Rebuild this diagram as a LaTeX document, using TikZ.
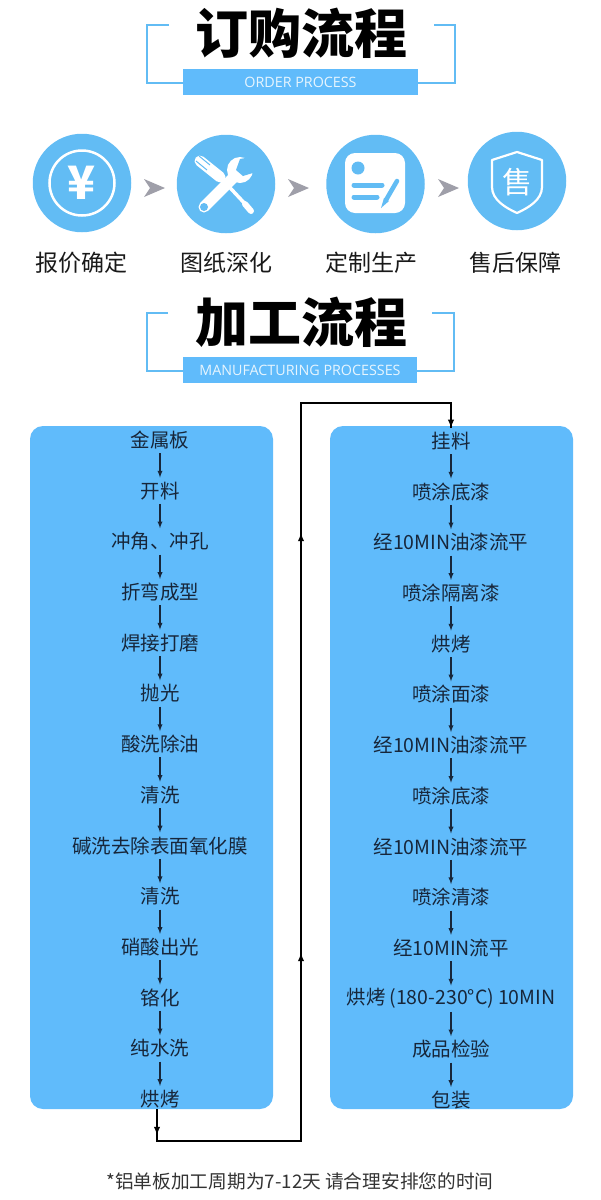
\documentclass[tikz,border=0pt]{standalone}
\usepackage{fontspec}
\setmainfont{Noto Sans CJK SC}
\newfontfamily\latinfont{Open Sans}
\usetikzlibrary{positioning}
\tikzset{>=latex}
\definecolor{skyblue}{HTML}{60BBFB}
\definecolor{circblue}{HTML}{62BCF4}
\definecolor{inkdark}{HTML}{17263A}
\tikzset{
  proc/.style={inner sep=0pt, minimum height=26pt, text=inkdark, font=\fontsize{19.5pt}{20pt}\selectfont},
  flow/.style={->, line width=1.3pt, inkdark},
  loopline/.style={line width=1.8pt, black},
  panel/.style={fill=skyblue, rounded corners=13pt, minimum width=243pt, minimum height=683pt, inner sep=0pt},
  band/.style={fill=skyblue, inner sep=0pt, minimum height=26pt, text=white!85!skyblue},
  bracket/.style={line width=1.2pt, circblue},
  headline/.style={inner sep=0pt, font=\fontsize{53pt}{54pt}\selectfont\bfseries},
  caption/.style={inner sep=0pt, text=black!90, font=\fontsize{23pt}{24pt}\selectfont},
  disc/.style={circle, fill=circblue, inner sep=0pt, minimum size=98.5pt},
  chev/.style={fill=black!25!blue!8!gray!70},
}
\begin{document}
\begin{tikzpicture}[x=1pt, y=-1pt, node distance=50.7pt]
  \useasboundingbox (0,0) rectangle (601,1200);
  % titles
  \node[headline] (t1) at (301,33) {订购流程};
  \node[band, minimum width=235pt] (s1) at (300.5,82) {\latinfont\fontsize{14.3pt}{16pt}\selectfont ORDER PROCESS};
  \draw[bracket] (169,25) -| (147,83) -- (s1.west |- 0,83);
  \draw[bracket] (434,25) -| (455,83) -- (s1.east |- 0,83);
  \node[headline] (t2) at (301,322) {加工流程};
  \node[band, minimum width=234pt] (s2) at (300,370) {\latinfont\fontsize{14.3pt}{16pt}\selectfont MANUFACTURING PROCESSES};
  \draw[bracket] (168,313) -| (147,371) -- (s2.west |- 0,371);
  \draw[bracket] (432,313) -| (454,371) -- (s2.east |- 0,371);
  % order steps
  \node[disc] (c1) at (82,183) {};
  \node[disc] (c2) at (226,184) {};
  \node[disc] (c3) at (375.5,184) {};
  \node[disc] (c4) at (517,181) {};
  \node[caption] (l1) at (81.5,263) {报价确定};
  \node[caption] (l2) at (226,263) {图纸深化};
  \node[caption] (l3) at (371,263) {定制生产};
  \node[caption] (l4) at (515,263) {售后保障};
  \fill[chev, shift={(144,188)}] (0,-9) -- (21,0) -- (0,9) -- (6,0) -- cycle;
  \fill[chev, shift={(288,188)}] (0,-9) -- (21,0) -- (0,9) -- (6,0) -- cycle;
  \fill[chev, shift={(438,188)}] (0,-9) -- (21,0) -- (0,9) -- (6,0) -- cycle;
  % yen
  \draw[white, line width=2.5pt] (c1) circle (32.5);
  \node[inner sep=0pt, text=white, font=\fontsize{46pt}{48pt}\selectfont\bfseries] (yen) at (82,183) {¥};
  % wrench and screwdriver
  \draw[white, line width=11pt, line cap=round] (200,161) -- (220,177);
  \draw[circblue, line width=1pt] (199,156) -- (210,165);
  \draw[circblue, line width=1pt] (196,161) -- (207,170);
  \draw[white, line width=3.5pt] (220,177) -- (248,207);
  \draw[white, line width=6pt, line cap=round] (245,204) -- (251,211);
  \draw[circblue, line width=5pt] (221,191) -- (232,180);
  \draw[white, line width=11pt, line cap=round] (204,207) -- (236,175);
  \fill[white] (240,170) circle (13);
  \fill[circblue] (240,159) -- (236,170) -- (243,176) -- (256,172) -- (256,156) -- cycle;
  \fill[circblue] (204,207) circle (4);
  % form with pen
  \fill[white, rounded corners=10pt] (345,153) rectangle (405,213);
  \fill[circblue] (358,168) circle (6.5);
  \draw[circblue, line width=5pt, line cap=round] (354,185) -- (382,185);
  \draw[circblue, line width=5pt, line cap=round] (354,197) -- (377,197);
  \draw[circblue, line width=4.5pt, line cap=round] (397,181) -- (386,200);
  \fill[circblue] (384,198) -- (389,201) -- (381,208) -- cycle;
  % shield
  \draw[white, line width=2.2pt, line join=round] (517,152) -- (542,160) -- (542,187)
    .. controls (542,200) and (528,208) .. (517,213)
    .. controls (506,208) and (492,200) .. (492,187) -- (492,160) -- cycle;
  \node[inner sep=0pt, text=white, font=\fontsize{30pt}{32pt}\selectfont] (sv) at (517,182) {售};
  % panels
  \node[panel] (pl) at (151.5,767.5) {};
  \node[panel] (pr) at (451.5,767.5) {};
  % left column
  \node[proc] (a0) at (160,440) {金属板};
  \node[proc, below of=a0] (a1) {开料};
  \node[proc, below of=a1] (a2) {冲角、冲孔};
  \node[proc, below of=a2] (a3) {折弯成型};
  \node[proc, below of=a3] (a4) {焊接打磨};
  \node[proc, below of=a4] (a5) {抛光};
  \node[proc, below of=a5] (a6) {酸洗除油};
  \node[proc, below of=a6] (a7) {清洗};
  \node[proc, below of=a7] (a8) {碱洗去除表面氧化膜};
  \node[proc, below of=a8] (a9) {清洗};
  \node[proc, below of=a9] (a10) {硝酸出光};
  \node[proc, below of=a10] (a11) {铬化};
  \node[proc, below of=a11] (a12) {纯水洗};
  \node[proc, below of=a12] (a13) {烘烤};
  \draw[flow] (a0) -- (a1);
  \draw[flow] (a1) -- (a2);
  \draw[flow] (a2) -- (a3);
  \draw[flow] (a3) -- (a4);
  \draw[flow] (a4) -- (a5);
  \draw[flow] (a5) -- (a6);
  \draw[flow] (a6) -- (a7);
  \draw[flow] (a7) -- (a8);
  \draw[flow] (a8) -- (a9);
  \draw[flow] (a9) -- (a10);
  \draw[flow] (a10) -- (a11);
  \draw[flow] (a11) -- (a12);
  \draw[flow] (a12) -- (a13);
  % right column
  \node[proc] (b0) at (451,441) {挂料};
  \node[proc, below of=b0] (b1) {喷涂底漆};
  \node[proc, below of=b1] (b2) {经10MIN油漆流平};
  \node[proc, below of=b2] (b3) {喷涂隔离漆};
  \node[proc, below of=b3] (b4) {烘烤};
  \node[proc, below of=b4] (b5) {喷涂面漆};
  \node[proc, below of=b5] (b6) {经10MIN油漆流平};
  \node[proc, below of=b6] (b7) {喷涂底漆};
  \node[proc, below of=b7] (b8) {经10MIN油漆流平};
  \node[proc, below of=b8] (b9) {喷涂清漆};
  \node[proc, below of=b9] (b10) {经10MIN流平};
  \node[proc, below of=b10] (b11) {烘烤\hspace{4pt}(180-230°C)\hspace{4pt}10MIN};
  \node[proc, below of=b11] (b12) {成品检验};
  \node[proc, below of=b12] (b13) {包装};
  \draw[flow] (b0) -- (b1);
  \draw[flow] (b1) -- (b2);
  \draw[flow] (b2) -- (b3);
  \draw[flow] (b3) -- (b4);
  \draw[flow] (b4) -- (b5);
  \draw[flow] (b5) -- (b6);
  \draw[flow] (b6) -- (b7);
  \draw[flow] (b7) -- (b8);
  \draw[flow] (b8) -- (b9);
  \draw[flow] (b9) -- (b10);
  \draw[flow] (b10) -- (b11);
  \draw[flow] (b11) -- (b12);
  \draw[flow] (b12) -- (b13);
  % link between the panels
  \coordinate (aux0) at (157,1109);
  \coordinate (aux1) at (157,1141);
  \coordinate (aux2) at (301,1141);
  \coordinate (aux3) at (301,403);
  \draw[loopline, ->] (aux0) -- (157,1135);
  \draw[loopline] (aux0) -- (aux1) -- (aux2) -- (aux3) -| (b0.north);
  \draw[loopline, ->] (b0.north |- aux3) -- (b0.north);
  \draw[loopline, ->] (aux2) -- (301,533);
  \draw[loopline, ->] (aux2) -- (301,953);
  % note
  \node[inner sep=0pt, text=black!80, font=\fontsize{18.7pt}{20pt}\selectfont] (note) at (300,1181) {*铝单板加工周期为7-12天 请合理安排您的时间};
\end{tikzpicture}
\end{document}
